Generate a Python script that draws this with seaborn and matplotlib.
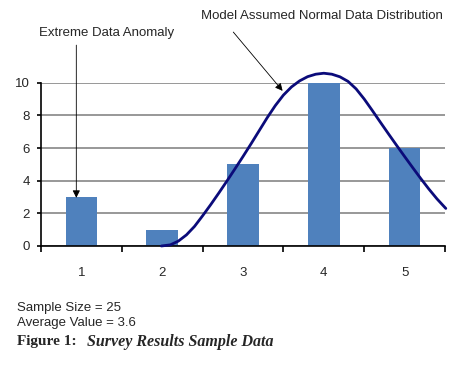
import numpy as np
import matplotlib
matplotlib.use("Agg")
import matplotlib.pyplot as plt
import seaborn as sns
import pandas as pd

# survey results: rating -> number of answers
ratings = [1, 2, 3, 4, 5]
counts = [3, 1, 5, 10, 6]

# assumed normal curve
curve_x = [1.99, 2.1, 2.2, 2.3, 2.4, 2.5, 2.6, 2.7, 2.8, 2.9, 3.0, 3.1, 3.2, 3.3,
           3.4, 3.5, 3.6, 3.7, 3.8, 3.9, 4.0, 4.1, 4.2, 4.3, 4.4, 4.5, 4.6,
           4.7, 4.8, 4.9, 5.0, 5.1, 5.2, 5.3, 5.4, 5.51]
curve_y = [0.0, 0.07, 0.30, 0.68, 1.20, 1.85, 2.53, 3.24, 3.97, 4.72, 5.48, 6.26, 7.06,
           7.86, 8.60, 9.24, 9.74, 10.11, 10.37, 10.52, 10.58, 10.52, 10.36, 10.08, 9.62,
           9.00, 8.30, 7.58, 6.87, 6.17, 5.48, 4.80, 4.13, 3.49, 2.89, 2.30]

y_ticks = [0, 2, 4, 6, 8, 10]

sns.set_style("white")
plt.rcParams['font.family'] = ['Liberation Sans', 'DejaVu Sans']

fig = plt.figure(figsize=(4.6, 3.7), dpi=100)
ax = fig.add_axes([41/460, 1-246/370, 404/460, 163.3/370])

df = pd.DataFrame({'rating': ratings, 'count': counts})
sns.barplot(data=df, x='rating', y='count', native_scale=True, width=0.39,
            color='#4F81BD', saturation=1, linewidth=0, ax=ax, zorder=2)
sns.lineplot(x=curve_x, y=curve_y, color='#0B0B7A', lw=2.0, ax=ax,
             sort=False, clip_on=False, zorder=3)

ax.set_xlim(0.5, 5.5)
ax.set_ylim(0, 10)
ax.set_xlabel('')
ax.set_ylabel('')

# horizontal grid
ax.set_yticks(y_ticks)
ax.yaxis.grid(True, color='#868686', lw=1.2)
ax.xaxis.grid(False)
ax.set_axisbelow(True)

# labels in the middle of each category, tick marks between them
ax.set_xticks(ratings)
ax.set_xticklabels([str(r) for r in ratings])
ax.set_xticks(np.arange(0.5, 6, 1), minor=True)
ax.tick_params(axis='x', which='major', length=0, pad=15, labelsize=9.5)
ax.tick_params(axis='x', which='minor', bottom=True, length=4, width=1.2,
               color='black', direction='out')
ax.tick_params(axis='y', left=True, length=3, width=1.2, color='black',
               direction='out', pad=5, labelsize=9.5)

for s in ['top', 'right']:
    ax.spines[s].set_visible(False)
for s in ['left', 'bottom']:
    ax.spines[s].set_color('black')
    ax.spines[s].set_linewidth(1.2)

arrow = dict(arrowstyle='-|>', color='black', lw=0.6, mutation_scale=11,
             shrinkA=0, shrinkB=0)
ax.annotate('', xy=(0.937, 2.95), xytext=(0.937, 12.3), arrowprops=arrow,
            annotation_clip=False)
ax.annotate('', xy=(3.49, 9.5), xytext=(2.88, 13.1), arrowprops=arrow,
            annotation_clip=False)

fig.text(39/460, 1-33/370, 'Extreme Data Anomaly', fontsize=9.5, va='center')
fig.text(201/460, 1-16/370, 'Model Assumed Normal Data Distribution', fontsize=9.5,
         va='center')

fig.text(17/460, 1-307.5/370, 'Sample Size = 25', fontsize=9.5, va='center')
fig.text(17/460, 1-323/370, 'Average Value = 3.6', fontsize=9.5, va='center')
fig.text(17/460, 1-341.5/370, 'Figure 1:', fontsize=11, fontweight='bold',
         family='Liberation Serif', va='center')
fig.text(87/460, 1-341.5/370, 'Survey Results Sample Data', fontsize=11.5,
         fontweight='bold', style='italic', family='Liberation Serif', va='center')

fig.savefig('out.png', dpi=100)
